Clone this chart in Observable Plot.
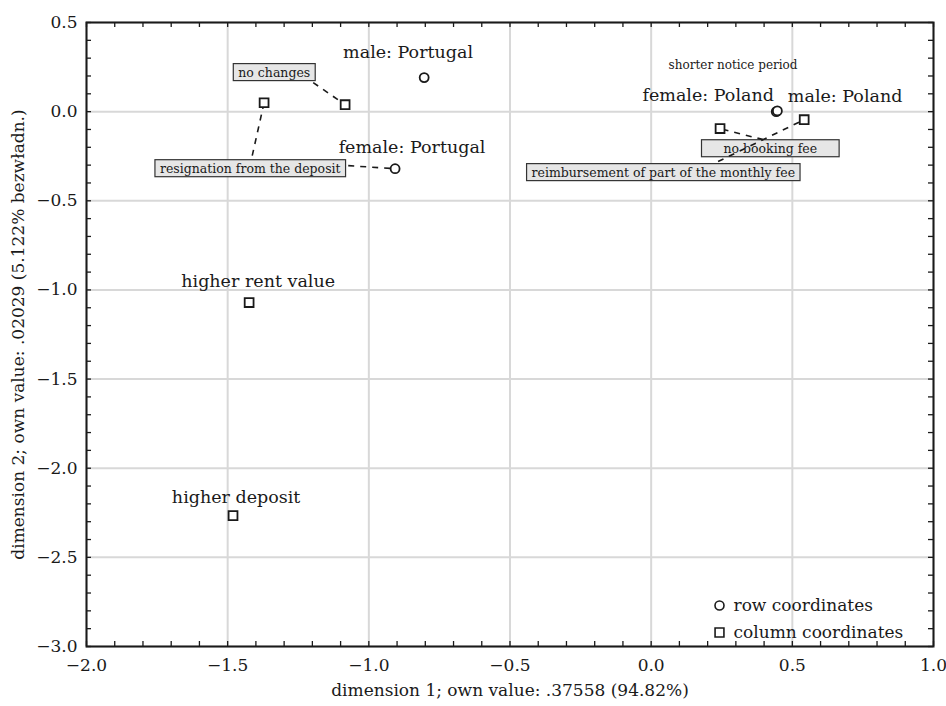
<!DOCTYPE html>
<html><head><meta charset="utf-8">
<script src="https://cdn.jsdelivr.net/npm/d3@7"></script>
<script src="https://cdn.jsdelivr.net/npm/@observablehq/plot@0.6"></script>
<style>body{margin:0;background:#fff;} svg{font-family:"DejaVu Serif";}</style>
</head><body><div id="chart"></div>
<script>
// row coordinates (circles)
const rowNames = ["male: Portugal", "female: Portugal", "female: Poland", "male: Poland"];
const rowX = [-0.804, -0.907, 0.443, 0.447];
const rowY = [0.191, -0.320, 0.000, 0.004];
// column coordinates (squares)
const colNames = ["no changes", "resignation from the deposit", "higher rent value", "higher deposit", "no booking fee", "reimbursement of part of the monthly fee"];
const colX = [-1.084, -1.371, -1.424, -1.481, 0.244, 0.542];
const colY = [0.039, 0.050, -1.071, -2.266, -0.095, -0.045];
// point labels (plain)
const bigLabelText = ["male: Portugal", "female: Portugal", "higher rent value", "higher deposit", "female: Poland", "male: Poland"];
const bigLabelX = [-0.861, -0.847, -1.392, -1.470, 0.202, 0.687];
const bigLabelY = [0.331, -0.202, -0.953, -2.165, 0.090, 0.084];
const smallLabelText = ["shorter notice period"];
const smallLabelX = [0.290];
const smallLabelY = [0.258];
// moved labels (boxed)
const boxLabelText = ["no changes", "resignation from the deposit", "no booking fee", "reimbursement of part of the monthly fee"];
const boxLabelX = [-1.335, -1.420, 0.422, 0.043];
const boxLabelY = [0.219, -0.320, -0.208, -0.342];
// leader lines: from label edge to point
const leadFromX = [-1.197, -1.413, -1.073, 0.397, 0.237];
const leadFromY = [0.163, -0.247, -0.303, -0.157, -0.280];
const leadToX = [-1.084, -1.371, -0.907, 0.244, 0.542];
const leadToY = [0.039, 0.050, -0.320, -0.095, -0.045];
// axes
const xMajor = [-2.0, -1.5, -1.0, -0.5, 0.0, 0.5, 1.0];
const yMajor = [0.5, 0.0, -0.5, -1.0, -1.5, -2.0, -2.5, -3.0];
const xMinor = d3.range(-20, 11).map(i => i / 10);
const yMinor = d3.range(-30, 6).map(i => i / 10);
const xLabel = "dimension 1; own value: .37558 (94.82%)";
const yLabel = "dimension 2; own value: .02029 (5.122% bezwładn.)";
const legendItems = ["row coordinates", "column coordinates"];

// style: horizontal padding of each label box (px)
const boxPad = [5, 5, 22, 5];

const rows = rowNames.map((n, i) => ({n, x: rowX[i], y: rowY[i]}));
const cols = colNames.map((n, i) => ({n, x: colX[i], y: colY[i]}));
const bigL = bigLabelText.map((t, i) => ({t, x: bigLabelX[i], y: bigLabelY[i]}));
const smallL = smallLabelText.map((t, i) => ({t, x: smallLabelX[i], y: smallLabelY[i]}));
const boxL = boxLabelText.map((t, i) => ({t, x: boxLabelX[i], y: boxLabelY[i]}));
const leads = leadFromX.map((x1, i) => ({x1, y1: leadFromY[i], x2: leadToX[i], y2: leadToY[i]}));

const W = 946, H = 706, mL = 86, mR = 13, mT = 22, mB = 60;
const iw = W - mL - mR, ih = H - mT - mB;
const fmt = d3.format(".1f");
const ink = "#1a1a1a";

const svg = Plot.plot({
  width: W, height: H, marginLeft: mL, marginRight: mR, marginTop: mT, marginBottom: mB,
  style: {fontFamily: "DejaVu Serif", fontSize: "16px", background: "white", color: ink},
  x: {domain: [-2, 1]},
  y: {domain: [-3, 0.5]},
  marks: [
    Plot.gridX(xMajor, {stroke: "#d8d8d8", strokeOpacity: 1, strokeWidth: 2}),
    Plot.gridY(yMajor, {stroke: "#d8d8d8", strokeOpacity: 1, strokeWidth: 2}),
    Plot.tickX(xMinor, {x: d => d, insetTop: ih - 5, stroke: ink, strokeWidth: 1.3}),
    Plot.tickX(xMinor, {x: d => d, insetBottom: ih - 5, stroke: ink, strokeWidth: 1.3}),
    Plot.tickY(yMinor, {y: d => d, insetRight: iw - 5, stroke: ink, strokeWidth: 1.3}),
    Plot.tickY(yMinor, {y: d => d, insetLeft: iw - 5, stroke: ink, strokeWidth: 1.3}),
    Plot.frame({stroke: ink, strokeWidth: 2}),
    Plot.axisX(xMajor, {tickSize: 0, tickPadding: 12, tickFormat: fmt, fontSize: 17, label: null}),
    Plot.axisY(yMajor, {tickSize: 0, tickPadding: 9, tickFormat: fmt, fontSize: 17, label: null}),
    Plot.text([xLabel], {frameAnchor: "bottom", dy: 44, lineAnchor: "middle", text: d => d, fontSize: 17, fill: ink}),
    Plot.text([yLabel], {frameAnchor: "left", dx: -68, rotate: -90, lineAnchor: "middle", textAnchor: "middle", text: d => d, fontSize: 17, fill: ink}),
    Plot.text(boxL, {x: "x", y: "y", text: "t", fontSize: 12.5, fill: ink, lineAnchor: "middle"}),
    Plot.link(leads, {x1: "x1", y1: "y1", x2: "x2", y2: "y2", stroke: ink, strokeWidth: 1.6, strokeDasharray: "6,6"}),
    Plot.dot(cols, {x: "x", y: "y", symbol: "square", r: 5, stroke: ink, strokeWidth: 1.8, fill: "white"}),
    Plot.dot(rows, {x: "x", y: "y", symbol: "circle", r: 4.5, stroke: ink, strokeWidth: 1.8, fill: "white"}),
    Plot.text(bigL, {x: "x", y: "y", text: "t", fontSize: 17.5, fill: ink, lineAnchor: "middle"}),
    Plot.text(smallL, {x: "x", y: "y", text: "t", fontSize: 12, fill: ink, lineAnchor: "middle"}),
    Plot.dot([legendItems[0]], {frameAnchor: "bottom-right", dx: -214, dy: -41, symbol: "circle", r: 4.5, stroke: ink, strokeWidth: 1.6, fill: "white"}),
    Plot.dot([legendItems[1]], {frameAnchor: "bottom-right", dx: -214, dy: -14, symbol: "square", r: 5, stroke: ink, strokeWidth: 1.6, fill: "white"}),
    Plot.text([legendItems[0]], {frameAnchor: "bottom-right", dx: -200, dy: -41, text: d => d, textAnchor: "start", lineAnchor: "middle", fontSize: 17, fill: ink}),
    Plot.text([legendItems[1]], {frameAnchor: "bottom-right", dx: -200, dy: -14, text: d => d, textAnchor: "start", lineAnchor: "middle", fontSize: 17, fill: ink})
  ]
});
document.getElementById("chart").appendChild(svg);

// boxes behind moved labels
const ns = "http://www.w3.org/2000/svg";
const done = new Set();
for (const t of svg.querySelectorAll("text")) {
  const k = boxLabelText.indexOf(t.textContent);
  if (k < 0 || done.has(k)) continue;
  done.add(k);
  const b = t.getBBox();
  const p = boxPad[k];
  const r = document.createElementNS(ns, "rect");
  r.setAttribute("x", b.x - p);
  r.setAttribute("y", b.y - 1);
  r.setAttribute("width", b.width + 2 * p);
  r.setAttribute("height", b.height + 2);
  r.setAttribute("fill", "#e6e6e6");
  r.setAttribute("stroke", "#333");
  r.setAttribute("stroke-width", 1.2);
  if (t.getAttribute("transform")) r.setAttribute("transform", t.getAttribute("transform"));
  t.parentNode.insertBefore(r, t);
}
</script>
</body></html>
